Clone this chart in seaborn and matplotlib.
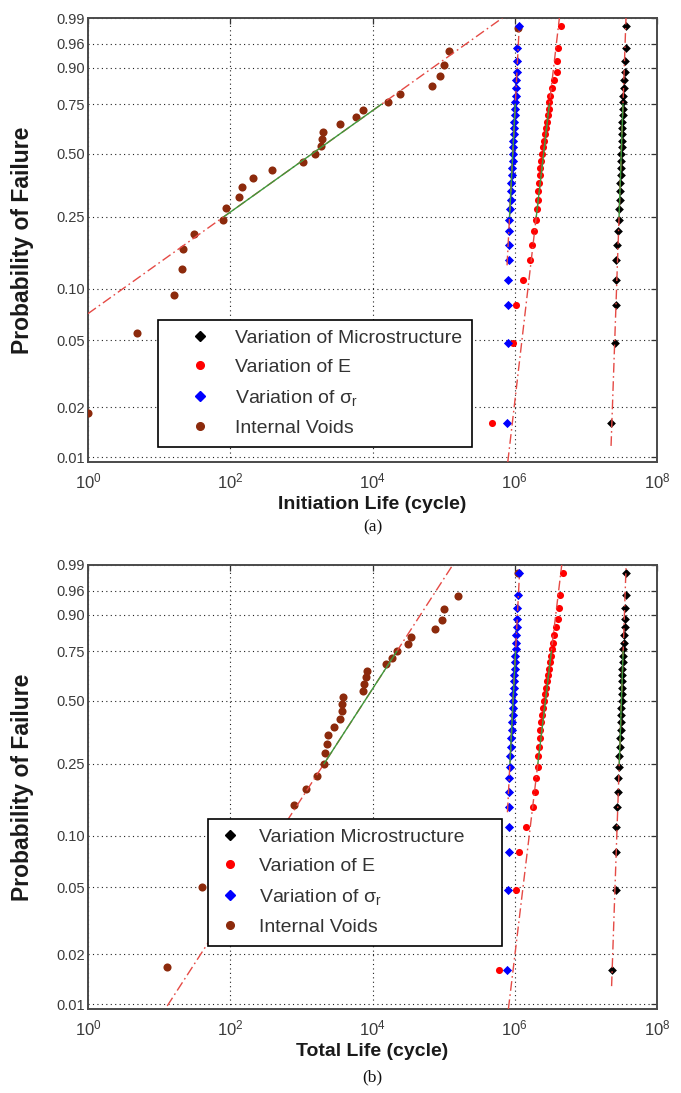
import numpy as np
import pandas as pd
import matplotlib
matplotlib.use("Agg")
import matplotlib.pyplot as plt
from matplotlib.lines import Line2D
from matplotlib.ticker import FixedLocator, FixedFormatter, NullLocator
import seaborn as sns

sns.set_theme(style="white")
plt.rcParams['font.family'] = ['Liberation Sans', 'DejaVu Sans']
plt.rcParams['mathtext.default'] = 'regular'

# ------------------------------------------------------------------ data
prob_ticks = [0.01, 0.02, 0.05, 0.10, 0.25, 0.50, 0.75, 0.90, 0.96, 0.99]
prob_tick_labels = ["0.01", "0.02", "0.05", "0.10", "0.25", "0.50", "0.75", "0.90", "0.96", "0.99"]
life_ticks = [1e0, 1e2, 1e4, 1e6, 1e8]
life_tick_labels = [r"$10^{0}$", r"$10^{2}$", r"$10^{4}$", r"$10^{6}$", r"$10^{8}$"]

legend_labels_a = ["Variation of Microstructure", "Variation of E",
                   r"Variation of $\sigma_r$", "Internal Voids"]
legend_labels_b = ["Variation Microstructure", "Variation of E",
                   r"Variation of $\sigma_r$", "Internal Voids"]

# (a) Initiation life (cycles)
init_microstructure = [2.26e7, 2.57e7, 2.61e7, 2.65e7, 2.65e7, 2.78e7, 2.83e7, 2.92e7, 2.95e7, 2.98e7,
                       3.02e7, 3.05e7, 3.08e7, 3.12e7, 3.14e7, 3.16e7, 3.18e7, 3.20e7, 3.22e7, 3.24e7,
                       3.26e7, 3.28e7, 3.31e7, 3.33e7, 3.38e7, 3.44e7, 3.49e7, 3.55e7, 3.55e7, 3.61e7, 3.67e7]
init_E = [4.79e5, 9.45e5, 1.04e6, 1.31e6, 1.64e6, 1.75e6, 1.87e6, 1.99e6, 2.06e6, 2.09e6,
          2.12e6, 2.19e6, 2.27e6, 2.30e6, 2.34e6, 2.42e6, 2.50e6, 2.58e6, 2.66e6, 2.75e6,
          2.84e6, 2.93e6, 3.03e6, 3.08e6, 3.13e6, 3.34e6, 3.56e6, 3.93e6, 3.99e6, 4.06e6, 4.47e6]
init_sigma_r = [7.8e5, 8.0e5, 8.1e5, 8.1e5, 8.3e5, 8.3e5, 8.3e5, 8.4e5, 8.6e5, 8.8e5,
                8.9e5, 9.0e5, 9.1e5, 9.2e5, 9.3e5, 9.4e5, 9.5e5, 9.6e5, 9.7e5, 9.8e5,
                9.9e5, 1.00e6, 1.01e6, 1.02e6, 1.03e6, 1.04e6, 1.04e6, 1.07e6, 1.08e6, 1.08e6, 1.15e6]
init_voids = [1.0, 4.9, 16, 21, 22, 31, 79, 87, 133, 146,
              209, 386, 1050, 1550, 1890, 1950, 2010, 3490, 5860, 7350,
              16500, 24000, 68000, 89000, 101000, 119000, 1.1e6]

# (b) Total life (cycles)
total_microstructure = [2.30e7, 2.62e7, 2.65e7, 2.68e7, 2.70e7, 2.80e7, 2.86e7, 2.94e7, 2.97e7, 3.00e7,
                        3.04e7, 3.07e7, 3.10e7, 3.13e7, 3.15e7, 3.17e7, 3.19e7, 3.21e7, 3.23e7, 3.25e7,
                        3.27e7, 3.29e7, 3.32e7, 3.35e7, 3.40e7, 3.46e7, 3.51e7, 3.56e7, 3.58e7, 3.62e7, 3.70e7]
total_E = [6.0e5, 1.05e6, 1.15e6, 1.45e6, 1.80e6, 1.90e6, 2.0e6, 2.1e6, 2.15e6, 2.2e6,
           2.25e6, 2.3e6, 2.37e6, 2.45e6, 2.5e6, 2.55e6, 2.65e6, 2.72e6, 2.8e6, 2.9e6,
           3.0e6, 3.1e6, 3.2e6, 3.3e6, 3.4e6, 3.6e6, 3.8e6, 4.1e6, 4.2e6, 4.3e6, 4.8e6]
total_sigma_r = [7.9e5, 8.1e5, 8.2e5, 8.2e5, 8.4e5, 8.4e5, 8.4e5, 8.5e5, 8.7e5, 8.9e5,
                 9.0e5, 9.1e5, 9.2e5, 9.3e5, 9.4e5, 9.5e5, 9.6e5, 9.7e5, 9.8e5, 9.9e5,
                 1.00e6, 1.01e6, 1.02e6, 1.03e6, 1.04e6, 1.05e6, 1.06e6, 1.08e6, 1.09e6, 1.10e6, 1.16e6]
total_voids = [13, 40, 110, 762, 787, 1160, 1660, 2080, 2150, 2290,
               2370, 2900, 3500, 3700, 3700, 3850, 7350, 7600, 8100, 8400,
               15500, 18800, 22100, 31500, 35000, 76000, 95000, 101000, 159000, 1.1e6]

series_colors = ["#000000", "#ff0000", "#0000ff", "#8c2a0c"]
series_markers = ["D", "o", "D", "o"]
series_sizes = [20, 26, 22, 34]
draw_order = [0, 1, 3, 2]


# ------------------------------------------------------------------ weibull probability scale
def weib(p):
    p = np.clip(np.asarray(p, dtype=float), 1e-15, 1 - 1e-15)
    return np.log(-np.log(1.0 - p))


def weib_inv(y):
    y = np.asarray(y, dtype=float)
    return -np.expm1(-np.exp(y))


Y_LO = weib(0.01) - 0.066
Y_HI = weib(0.99)


def plotting_positions(n):
    return (np.arange(1, n + 1) - 0.5) / n


def reference_line(values):
    """Line through the 1st and 3rd quartiles (log life vs Weibull y)."""
    lx = np.log10(np.sort(np.asarray(values, dtype=float)))
    q1, q3 = np.percentile(lx, [25, 75], method="hazen")
    y1, y3 = weib(0.25), weib(0.75)
    s = (y3 - y1) / (q3 - q1)
    t_lo, t_hi = lx.min(), lx.max()
    t_lo = max(t_lo, q1 + (Y_LO - y1) / s)
    t_hi = min(t_hi, q1 + (Y_HI - y1) / s)
    full_t = np.array([t_lo, t_hi])
    full_y = y1 + s * (full_t - q1)
    mid_t = np.array([q1, q3])
    mid_y = np.array([y1, y3])
    return (10 ** full_t, weib_inv(full_y)), (10 ** mid_t, weib_inv(mid_y))


def draw_panel(ax, datasets, legend_labels, xlabel, legend_kw):
    for k in draw_order:
        vals = np.sort(np.asarray(datasets[k], dtype=float))
        df = pd.DataFrame({"life": vals, "prob": plotting_positions(len(vals))})
        sns.scatterplot(data=df, x="life", y="prob", color=series_colors[k], marker=series_markers[k],
                        s=series_sizes[k], linewidth=0, ax=ax, legend=False, zorder=3)
        (fx, fy), (mx, my) = reference_line(vals)
        ax.plot(fx, fy, color="#e54a45", lw=1.0, dashes=(7, 2.5, 1.2, 2.5), zorder=4)
        ax.plot(mx, my, color="#3c9a3c", lw=1.0, zorder=4)

    ax.set_xscale("log")
    ax.set_yscale("function", functions=(weib, weib_inv))
    ax.set_xlim(1, 1e8)
    ax.set_ylim(weib_inv(Y_LO), weib_inv(Y_HI))

    ax.xaxis.set_major_locator(FixedLocator(life_ticks))
    ax.xaxis.set_major_formatter(FixedFormatter(life_tick_labels))
    ax.xaxis.set_minor_locator(NullLocator())
    ax.yaxis.set_major_locator(FixedLocator(prob_ticks))
    ax.yaxis.set_major_formatter(FixedFormatter(prob_tick_labels))
    ax.yaxis.set_minor_locator(NullLocator())

    ax.grid(True, which="major", color="#222222", linestyle=(0, (1, 3)), linewidth=0.8)
    ax.tick_params(direction="in", top=True, right=True, length=4, width=0.9,
                   color="#333333", labelcolor="#3a3a3a")
    ax.tick_params(axis="y", labelsize=10.5, pad=2.5)
    ax.tick_params(axis="x", labelsize=12, pad=7)
    for sp in ax.spines.values():
        sp.set_color("#4a4a4a")
        sp.set_linewidth(1.4)

    ax.set_ylabel("Probability of Failure", fontsize=16.5, fontweight="bold", color="#1a1a1a")
    ax.yaxis.set_label_coords(-0.095, 0.5)
    ax.set_xlabel(xlabel, fontsize=14, fontweight="bold", color="#1a1a1a")
    ax.xaxis.set_label_coords(0.5, -0.076)

    handles = [Line2D([], [], linestyle="none", marker=m, color=c, markersize=ms)
               for c, m, ms in zip(series_colors, series_markers, [5, 5.5, 5, 5.5])]
    leg = ax.legend(handles, legend_labels, loc="lower left", borderaxespad=0, fontsize=14,
                    frameon=True, fancybox=False, edgecolor="black", framealpha=1,
                    borderpad=0.5, labelspacing=0.6, **legend_kw)
    leg.get_frame().set_linewidth(1.2)
    for t in leg.get_texts():
        t.set_color("#333333")


fig = plt.figure(figsize=(6.81, 10.93), dpi=100)
W, H = 681.0, 1093.0
ax_a = fig.add_axes([88 / W, 1 - 462 / H, 569 / W, 444 / H])
ax_b = fig.add_axes([88 / W, 1 - 1009 / H, 569 / W, 444 / H])

draw_panel(ax_a, [init_microstructure, init_E, init_sigma_r, init_voids],
           legend_labels_a, "Initiation Life (cycle)",
           dict(bbox_to_anchor=(0.123, 0.034), handlelength=3.3, handletextpad=0.15))
draw_panel(ax_b, [total_microstructure, total_E, total_sigma_r, total_voids],
           legend_labels_b, "Total Life (cycle)",
           dict(bbox_to_anchor=(0.211, 0.142, 0.516, 0.25), mode="expand",
                handlelength=1.3, handletextpad=0.8))

fig.text(372.5 / W, 1 - 527 / H, "(a)", family=["Liberation Serif", "DejaVu Serif"],
         fontsize=12.5, ha="center", va="center", color="#111111")
fig.text(372.5 / W, 1 - 1077 / H, "(b)", family=["Liberation Serif", "DejaVu Serif"],
         fontsize=12.5, ha="center", va="center", color="#111111")

fig.savefig("out.png", dpi=100, facecolor="white")
